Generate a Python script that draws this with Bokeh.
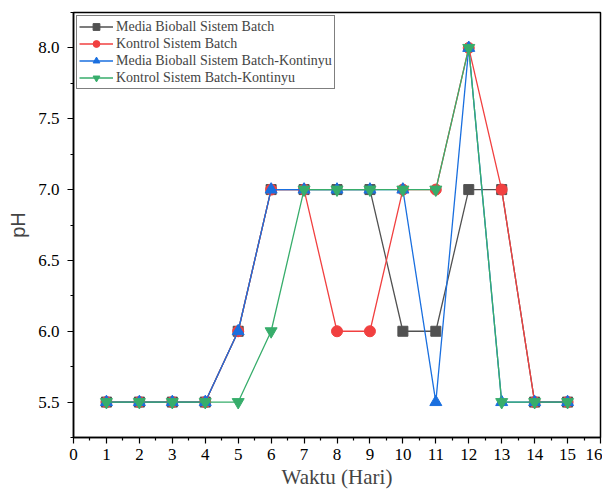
from bokeh.plotting import figure
from bokeh.models import Range1d, FixedTicker, Legend, LegendItem, CustomJSTickFormatter
from bokeh.embed import file_html
from bokeh.resources import INLINE

days = [1, 2, 3, 4, 5, 6, 7, 8, 9, 10, 11, 12, 13, 14, 15]
bioball_batch = [5.5, 5.5, 5.5, 5.5, 6.0, 7.0, 7.0, 7.0, 7.0, 6.0, 6.0, 7.0, 7.0, 5.5, 5.5]
kontrol_batch = [5.5, 5.5, 5.5, 5.5, 6.0, 7.0, 7.0, 6.0, 6.0, 7.0, 7.0, 8.0, 7.0, 5.5, 5.5]
bioball_bk = [5.5, 5.5, 5.5, 5.5, 6.0, 7.0, 7.0, 7.0, 7.0, 7.0, 5.5, 8.0, 5.5, 5.5, 5.5]
kontrol_bk = [5.5, 5.5, 5.5, 5.5, 5.5, 6.0, 7.0, 7.0, 7.0, 7.0, 7.0, 8.0, 5.5, 5.5, 5.5]
names = ["Media Bioball Sistem Batch", "Kontrol Sistem Batch",
         "Media Bioball Sistem Batch-Kontinyu", "Kontrol Sistem Batch-Kontinyu"]
x_ticks = list(range(0, 17))
y_ticks = [5.5, 6.0, 6.5, 7.0, 7.5, 8.0]

p = figure(width=602, height=491, output_backend="svg", toolbar_location=None,
           x_range=Range1d(0, 16), y_range=Range1d(5.25, 8.25),
           min_border_left=73, min_border_right=2, min_border_top=12, min_border_bottom=52)
p.outline_line_color = "black"
p.outline_line_width = 1.5
p.grid.visible = False
p.background_fill_color = "white"
p.border_fill_color = "white"

serif = "Tinos"
p.xaxis.ticker = FixedTicker(ticks=x_ticks, minor_ticks=[i + 0.5 for i in range(16)])
p.yaxis.ticker = FixedTicker(ticks=y_ticks, minor_ticks=[5.25 + 0.25 * i for i in range(13)])
p.yaxis.formatter = CustomJSTickFormatter(code="return tick.toFixed(1);")
for ax in (p.xaxis, p.yaxis):
    ax.major_label_text_font = serif
    ax.major_label_text_font_size = "17px"
    ax.major_label_text_color = "black"
    ax.axis_line_width = 1.5
    ax.major_tick_line_width = 1.2
    ax.minor_tick_line_width = 1.2
    ax.major_tick_out = 6
    ax.major_tick_in = 0
    ax.minor_tick_out = 3
    ax.minor_tick_in = 0
p.xaxis.axis_label = "Waktu (Hari)"
p.xaxis.axis_label_text_font = serif
p.xaxis.axis_label_text_font_style = "normal"
p.xaxis.axis_label_text_font_size = "21px"
p.xaxis.axis_label_standoff = 2
p.yaxis.axis_label = "pH"
p.yaxis.axis_label_text_font = "Arimo"
p.yaxis.axis_label_text_font_style = "normal"
p.yaxis.axis_label_text_font_size = "20px"
p.yaxis.axis_label_standoff = 6
p.xaxis.major_label_standoff = 5
p.yaxis.major_label_standoff = 8

colors = ["#515151", "#F14040", "#1A6FDF", "#37AD6B"]
series = [bioball_batch, kontrol_batch, bioball_bk, kontrol_bk]
items = []
for i, (ys, c) in enumerate(zip(series, colors)):
    ln = p.line(days, ys, line_color=c, line_width=1.3)
    if i == 0:
        mk = p.scatter(days, ys, marker="square", size=10, fill_color=c, line_color=c)
    elif i == 1:
        mk = p.scatter(days, ys, marker="circle", size=11, fill_color=c, line_color=c)
    elif i == 2:
        mk = p.scatter(days, ys, marker="triangle", size=12, fill_color=c, line_color=c)
    else:
        mk = p.scatter(days, ys, marker="inverted_triangle", size=12, fill_color=c, line_color=c)
    items.append(LegendItem(label=names[i], renderers=[ln, mk]))

legend = Legend(items=items, location="top_left")
legend.label_text_font = serif
legend.label_text_font_size = "14px"
legend.label_height = 17
legend.glyph_height = 17
legend.glyph_width = 34
legend.spacing = 0
legend.padding = 2
legend.margin = 3
legend.label_standoff = 3
legend.border_line_color = "black"
legend.border_line_width = 1
legend.background_fill_alpha = 1
p.add_layout(legend)

open("out.html", "w").write(file_html(p, INLINE))
